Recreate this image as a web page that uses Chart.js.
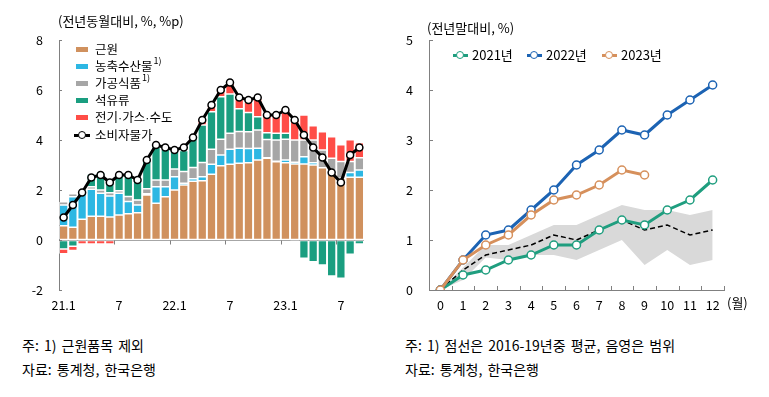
<!DOCTYPE html>
<html><head><meta charset="utf-8">
<script src="https://cdn.jsdelivr.net/npm/chart.js@4.4.0/dist/chart.umd.min.js"></script>
<style>
html,body{margin:0;padding:0;background:#fff;width:769px;height:397px;overflow:hidden;font-family:"Noto Sans CJK KR",sans-serif;color:#000}
.abs{position:absolute;white-space:nowrap}
#cL{position:absolute;left:0;top:0}
#cR{position:absolute;left:385px;top:0}
.title{font-size:13px;line-height:16px}
.note{font-size:14px;line-height:18px;word-spacing:2px}
.lg{font-size:12.5px;line-height:16px}
.dot{font-family:"Liberation Sans",sans-serif}
.sw{position:absolute;width:12px;height:5px}
sup{font-size:9px;vertical-align:0;position:relative;top:-7px;margin-left:1px}
.mk{position:absolute;height:0}
.mk .ln{position:absolute;left:0;top:-1.5px;height:3px}
.mk .ci{position:absolute;width:6px;height:6px;border-radius:50%;background:#fff;top:-4.5px}
</style></head>
<body>
<canvas id="cL" width="380" height="320"></canvas>
<canvas id="cR" width="384" height="320"></canvas>
<div class="abs title" style="left:58px;top:13px">(전년동월대비, %, %p)</div>
<div class="abs title" style="left:427px;top:20px">(전년말대비, %)</div>
<div class="abs title" style="left:727px;top:295px">(월)</div>
<div id="legL"></div>
<div id="legR"></div>
<div class="abs note" style="left:22px;top:336px">주: 1) 근원품목 제외</div>
<div class="abs note" style="left:22px;top:360px">자료: 통계청, 한국은행</div>
<div class="abs note" style="left:405px;top:336px">주: 1) 점선은 2016-19년중 평균, 음영은 범위</div>
<div class="abs note" style="left:405px;top:360px">자료: 통계청, 한국은행</div>
<script>
// ---------- Left chart data ----------
const months = ['21.1','21.2','21.3','21.4','21.5','21.6','21.7','21.8','21.9','21.10','21.11','21.12',
  '22.1','22.2','22.3','22.4','22.5','22.6','22.7','22.8','22.9','22.10','22.11','22.12',
  '23.1','23.2','23.3','23.4','23.5','23.6','23.7','23.8','23.9'];
const monthTickLabels = {'21.1':'21.1','21.7':'7','22.1':'22.1','22.7':'7','23.1':'23.1','23.7':'7'};
const core      = [0.57,0.51,0.83,0.95,0.95,0.92,1.00,1.05,1.09,1.80,1.47,1.73,2.00,2.20,2.35,2.37,2.63,2.97,3.03,3.07,3.09,3.20,3.27,3.13,3.09,3.04,3.04,3.00,2.89,2.67,2.47,2.51,2.51];
const agri      = [0.83,1.22,1.13,1.08,0.92,0.84,0.87,0.49,0.31,0.05,0.66,0.40,0.53,0.07,0.10,0.16,0.40,0.43,0.60,0.60,0.57,0.47,0.02,0.02,0.11,0.07,0.29,0.09,0.00,0.00,0.00,0.19,0.29];
const processed = [0.13,0.12,0.05,0.10,0.13,0.13,0.10,0.20,0.20,0.20,0.27,0.27,0.31,0.47,0.45,0.57,0.60,0.63,0.64,0.67,0.67,0.73,0.73,0.85,0.83,0.89,0.67,0.91,0.71,0.60,0.67,0.44,0.49];
const oil       = [-0.36,-0.25,0.05,0.51,0.73,0.54,0.70,0.90,0.80,1.15,1.33,1.23,0.73,0.84,1.15,1.50,1.50,1.70,1.57,0.91,0.77,0.53,0.27,0.27,0.24,-0.07,-0.73,-0.87,-1.00,-1.44,-1.53,-0.57,-0.16];
const utility   = [-0.19,-0.17,-0.16,-0.16,-0.16,-0.16,0,0,0,0,0,0,0,0,0.05,0.20,0.24,0.30,0.45,0.40,0.43,0.74,0.80,0.73,0.93,0.80,1.00,0.57,0.73,0.86,0.67,0.87,0.60];
const cpi       = [0.9,1.4,1.9,2.5,2.6,2.3,2.6,2.6,2.4,3.2,3.8,3.7,3.6,3.7,4.1,4.8,5.4,6.0,6.3,5.7,5.6,5.7,5.0,5.0,5.2,4.8,4.2,3.7,3.3,2.7,2.3,3.4,3.7];
const leftNames = ['근원','농축수산물','가공식품','석유류','전기·가스·수도','소비자물가'];
const leftSup   = ['','1)','1)','','',''];

// ---------- Right chart data ----------
const monthIdx = ['0','1','2','3','4','5','6','7','8','9','10','11','12'];
const y2021 = [0,0.3,0.4,0.6,0.7,0.9,0.9,1.2,1.4,1.3,1.6,1.8,2.2];
const y2022 = [0,0.6,1.1,1.2,1.6,2.0,2.5,2.8,3.2,3.1,3.5,3.8,4.1];
const y2023 = [0,0.6,0.9,1.1,1.5,1.8,1.9,2.1,2.4,2.3];
const avg1619 = [0,0.4,0.7,0.8,0.9,1.1,1.0,1.2,1.4,1.2,1.3,1.1,1.2];
const rangeMin = [0,0.2,0.65,0.6,0.7,0.7,0.6,0.8,1.0,0.5,0.8,0.5,0.6];
const rangeMax = [0,0.45,0.9,0.9,1.1,1.3,1.3,1.5,1.7,1.6,1.6,1.5,1.6];
const rightNames = ['2021년','2022년','2023년'];

const FONT = '"Noto Sans CJK KR", sans-serif';
const AXIS = '#808080';
const barColors = ['#d0915e','#2db7e3','#a6a6a6','#1a9e80','#ff4d47'];
const yearColors = ['#1f9e7f','#1c63b3','#d6905c'];

const tickMarks = {
  id:'tickMarks',
  afterDraw(chart, args, o){
    const ctx=chart.ctx, x=chart.scales.x, y=chart.scales.y, a=chart.chartArea;
    ctx.save(); ctx.strokeStyle=o.color||AXIS; ctx.lineWidth=1; ctx.beginPath();
    if(o.yInner){ y.ticks.forEach(t=>{ const py=Math.round(y.getPixelForValue(t.value))+0.5; ctx.moveTo(a.left,py); ctx.lineTo(a.left+o.yInner,py);}); }
    if(o.xBoundaries){
      const base = o.xBase==='zero' ? Math.round(y.getPixelForValue(0))+0.5 : a.bottom;
      o.xBoundaries.forEach(i=>{ const px=Math.round((x.getPixelForValue(i)+x.getPixelForValue(i-1))/2)+0.5; ctx.moveTo(px,base); ctx.lineTo(px,base+o.xDir*o.xLen);});
    }
    ctx.stroke(); ctx.restore();
  }
};

const barSeries = [core, agri, processed, oil, utility];
const leftDatasets = barSeries.map((d,i)=>({
  type:'bar', label:leftNames[i], data:d, backgroundColor:barColors[i],
  borderColor:'#ffffff', borderWidth:0.8, borderSkipped:false, stack:'s', order:1,
  barPercentage:0.96, categoryPercentage:1.0
}));
leftDatasets.push({type:'line', label:leftNames[5], data:cpi, borderColor:'#000', borderWidth:3,
  pointRadius:3.5, pointBackgroundColor:'#fff', pointBorderColor:'#000', pointBorderWidth:1.5,
  tension:0, stack:'cpi', order:0});

new Chart(document.getElementById('cL'), {
  data:{labels:months, datasets:leftDatasets},
  options:{
    responsive:false, animation:false, devicePixelRatio:1,
    layout:{padding:{top:40,right:16,left:0,bottom:0}},
    plugins:{legend:{display:false}, tooltip:{enabled:false},
      tickMarks:{yInner:3, xBoundaries:[6,12,18,24,30], xBase:'zero', xDir:1, xLen:4, color:AXIS}},
    scales:{
      x:{type:'category', offset:true, stacked:true, grid:{display:false}, border:{display:false},
        ticks:{autoSkip:false, maxRotation:0, padding:0, color:'#000', font:{family:FONT,size:12.5},
          callback:function(v,i){ return monthTickLabels[months[i]] || ''; }},
        afterFit:s=>{s.height=30;}},
      y:{type:'linear', min:-2, max:8, stacked:true,
        ticks:{stepSize:2, padding:16, color:'#000', font:{family:FONT,size:12.5}},
        grid:{drawTicks:false, color:c=>c.tick&&c.tick.value===0?'#a6a6a6':'rgba(0,0,0,0)', lineWidth:1},
        border:{display:true, color:AXIS, width:1},
        afterFit:s=>{s.width=59;}}
    }
  },
  plugins:[tickMarks]
});

new Chart(document.getElementById('cR'), {
  type:'line',
  data:{labels:monthIdx, datasets:[
    {label:'min', data:rangeMin, borderWidth:0, pointRadius:0, fill:false, order:6},
    {label:'max', data:rangeMax, borderWidth:0, pointRadius:0, fill:'-1', backgroundColor:'#d9d9d9', order:5},
    {label:'avg', data:avg1619, borderColor:'#000', borderWidth:1.5, borderDash:[5,3], pointRadius:0, fill:false, order:4},
    {label:rightNames[0], data:y2021, borderColor:yearColors[0], borderWidth:3, pointRadius:4, pointBackgroundColor:'#fff', pointBorderColor:yearColors[0], pointBorderWidth:1.5, fill:false, order:3},
    {label:rightNames[1], data:y2022, borderColor:yearColors[1], borderWidth:3, pointRadius:4, pointBackgroundColor:'#fff', pointBorderColor:yearColors[1], pointBorderWidth:1.5, fill:false, order:2},
    {label:rightNames[2], data:y2023, borderColor:yearColors[2], borderWidth:3, pointRadius:4, pointBackgroundColor:'#fff', pointBorderColor:yearColors[2], pointBorderWidth:1.5, fill:false, order:1}
  ]},
  options:{
    responsive:false, animation:false, devicePixelRatio:1,
    layout:{padding:{top:40,right:45,left:0,bottom:0}},
    elements:{line:{tension:0}},
    plugins:{legend:{display:false}, tooltip:{enabled:false},
      tickMarks:{yInner:4, xBoundaries:[0,1,2,3,4,5,6,7,8,9,10,11,12,13], xBase:'bottom', xDir:-1, xLen:4, color:AXIS}},
    scales:{
      x:{type:'category', offset:true, grid:{display:false}, border:{display:true,color:AXIS,width:1},
        ticks:{autoSkip:false, maxRotation:0, padding:0, color:'#000', font:{family:FONT,size:12.5}},
        afterFit:s=>{s.height=30;}},
      y:{type:'linear', min:0, max:5, grid:{display:false, drawTicks:false}, border:{display:true,color:AXIS,width:1},
        ticks:{stepSize:1, padding:16, color:'#000', font:{family:FONT,size:12.5}},
        afterFit:s=>{s.width=44;}}
    }
  },
  plugins:[tickMarks]
});

// ---------- HTML legends ----------
(function(){
  const L=document.getElementById('legL');
  const rowsY=[49,66,83,100,117,135];
  leftNames.forEach((n,i)=>{
    let mark;
    if(i<5){ mark=`<div class="sw" style="left:76px;top:${rowsY[i]-2.5}px;background:${barColors[i]}"></div>`; }
    else { mark=`<div class="mk" style="left:74px;top:${rowsY[i]}px"><div class="ln" style="width:16px;background:#000"></div><div class="ci" style="left:4px;border:1.5px solid #000"></div></div>`; }
    const txt=n.split('·').join('<span class="dot">·</span>');
    L.insertAdjacentHTML('beforeend', mark+`<div class="abs lg" style="left:95px;top:${rowsY[i]-8}px">${txt}${leftSup[i]?'<sup>'+leftSup[i]+'</sup>':''}</div>`);
  });
  const R=document.getElementById('legR');
  const xs=[453,527,602];
  rightNames.forEach((n,i)=>{
    R.insertAdjacentHTML('beforeend', `<div class="mk" style="left:${xs[i]}px;top:55px"><div class="ln" style="width:15px;background:${yearColors[i]}"></div><div class="ci" style="left:3px;border:1.5px solid ${yearColors[i]}"></div></div><div class="abs lg" style="left:${xs[i]+19}px;top:47px;font-size:13px">${n}</div>`);
  });
})();
</script>
</body></html>
